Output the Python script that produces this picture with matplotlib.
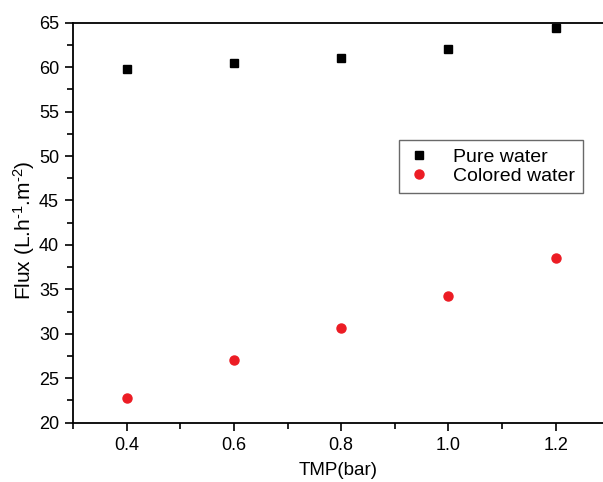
import matplotlib.pyplot as plt
from matplotlib.ticker import MultipleLocator

plt.rcParams['font.family'] = ['Liberation Sans', 'DejaVu Sans']
plt.rcParams['mathtext.fontset'] = 'custom'
plt.rcParams['mathtext.rm'] = 'Liberation Sans'
plt.rcParams['mathtext.it'] = 'Liberation Sans'

tmp = [0.4, 0.6, 0.8, 1.0, 1.2]
pure_water = [59.75, 60.45, 61.0, 62.0, 64.35]
colored_water = [22.8, 27.0, 30.7, 34.2, 38.5]


def plot_flux():
    fig = plt.figure(figsize=(6.03, 4.82), dpi=100)
    ax = fig.add_axes([0.121, 0.123, 0.879, 0.830])
    ax.plot(tmp, pure_water, ls='none', marker='s', ms=6, color='black',
            label='Pure water')
    ax.plot(tmp, colored_water, ls='none', marker='o', ms=6.5,
            color='#ec1c24', mec='#ec1c24', label='Colored water')

    ax.set_xlim(0.3, 1.288)
    ax.set_ylim(20, 65)
    ax.xaxis.set_major_locator(MultipleLocator(0.2))
    ax.xaxis.set_minor_locator(MultipleLocator(0.1))
    ax.yaxis.set_major_locator(MultipleLocator(5))
    ax.yaxis.set_minor_locator(MultipleLocator(2.5))
    ax.xaxis.set_major_formatter(plt.FuncFormatter(lambda v, p: f"{v:.1f}"))
    ax.tick_params(which='both', direction='out', width=1.2, labelsize=13,
                   top=False, right=False)
    ax.tick_params(which='major', length=6, pad=4)
    ax.tick_params(which='minor', length=4)
    ax.spines['right'].set_visible(False)
    for s in ['left', 'bottom', 'top']:
        ax.spines[s].set_linewidth(1.3)

    ax.set_xlabel("TMP(bar)", fontsize=13.5, labelpad=6)
    ax.set_ylabel(r"Flux (L.h$^{\text{-}1}$.m$^{\text{-}2}$)", fontsize=15)
    ax.yaxis.set_label_coords(-0.068, 0.48)

    leg = ax.legend(loc='upper left', bbox_to_anchor=(0.615, 0.706),
                    fontsize=14, frameon=True, fancybox=False,
                    edgecolor='#444444', handlelength=1.3, handletextpad=1.1,
                    borderpad=0.4, labelspacing=0.1, borderaxespad=0)
    leg.get_frame().set_linewidth(1.0)
    plt.savefig("out.png", dpi=100)


plot_flux()
